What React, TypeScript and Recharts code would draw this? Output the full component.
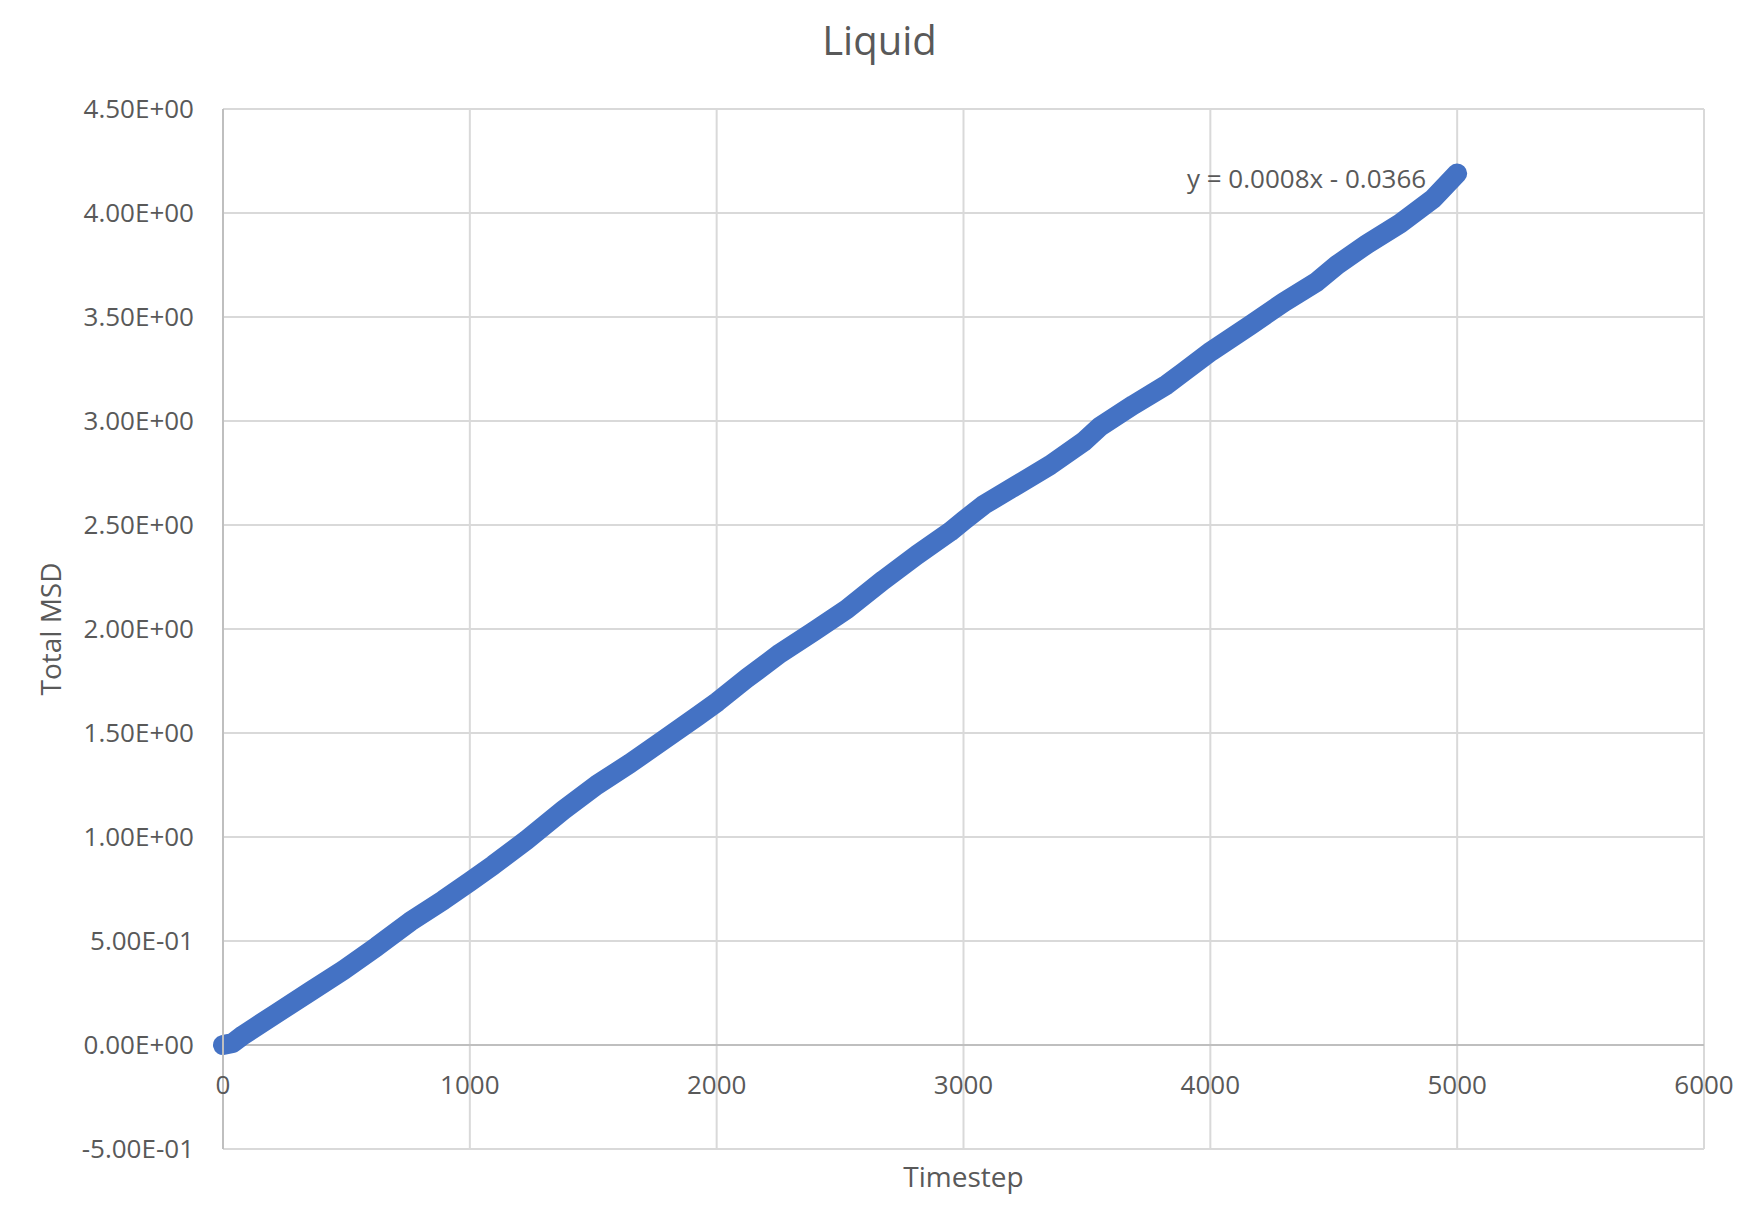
import React from 'react';
import {
  LineChart,
  Line,
  XAxis,
  YAxis,
  CartesianGrid,
  ReferenceLine,
  ReferenceDot,
  Label,
} from 'recharts';

// ---- data ----
const timesteps = [
  0, 40, 82, 217, 352, 488, 623, 758, 893, 1000,
  1095, 1230, 1379, 1514, 1649, 1784, 1919, 2003, 2122, 2257,
  2392, 2527, 2676, 2811, 2946, 3004, 3081, 3216, 3351, 3486,
  3553, 3688, 3824, 3891, 4003, 4161, 4296, 4432, 4513, 4634,
  4769, 4904, 5000,
];
const totalMsd = [
  0, 0.01, 0.048, 0.152, 0.256, 0.36, 0.473, 0.593, 0.697, 0.785,
  0.865, 0.986, 1.13, 1.25, 1.354, 1.466, 1.578, 1.65, 1.763, 1.883,
  1.987, 2.095, 2.236, 2.356, 2.468, 2.524, 2.596, 2.692, 2.788, 2.9,
  2.973, 3.077, 3.175, 3.235, 3.335, 3.46, 3.57, 3.67, 3.75, 3.85,
  3.95, 4.07, 4.19,
];
const xTicks = [0, 1000, 2000, 3000, 4000, 5000, 6000];
const yTicks = [-0.5, 0, 0.5, 1, 1.5, 2, 2.5, 3, 3.5, 4, 4.5];
const chartTitle = 'Liquid';
const xTitle = 'Timestep';
const yTitle = 'Total MSD';
const trendlineLabel = 'y = 0.0008x - 0.0366';

const data = timesteps.map((t, i) => ({ t, v: totalMsd[i] }));
const lastPoint = data[data.length - 1];

const FONT = '"Open Sans", "Noto Sans", sans-serif';
const TEXT = '#595959';

const fmtSci = (v: number) => {
  if (v === 0) return '0.00E+00';
  const exp = Math.floor(Math.log10(Math.abs(v)) + 1e-12);
  const mant = v / Math.pow(10, exp);
  const sign = exp < 0 ? '-' : '+';
  return `${mant.toFixed(2)}E${sign}${String(Math.abs(exp)).padStart(2, '0')}`;
};

export default function App() {
  return (
    <div
      style={{
        position: 'absolute',
        left: 0,
        top: 0,
        width: 1759,
        height: 1216,
        background: '#ffffff',
        fontFamily: FONT,
      }}
    >
      <svg
        width={1759}
        height={100}
        style={{ position: 'absolute', left: 0, top: 0, pointerEvents: 'none' }}
      >
        <text
          x={879.5}
          y={55}
          textAnchor="middle"
          fontSize={40}
          fill={TEXT}
          fontFamily={FONT}
        >
          {chartTitle}
        </text>
      </svg>
      <LineChart
        width={1759}
        height={1216}
        data={data}
        margin={{ top: 109, right: 55, bottom: 0, left: 0 }}
      >
        <CartesianGrid stroke="#D9D9D9" strokeWidth={2} />
        <XAxis
          dataKey="t"
          type="number"
          domain={[0, 6000]}
          ticks={xTicks}
          height={67}
          axisLine={false}
          tickLine={false}
          tickSize={0}
          tickMargin={-73}
          tick={{ fill: TEXT, fontSize: 26, fontFamily: FONT }}
          interval={0}
        >
          <Label
            content={(props: any) => {
              const vb = props.viewBox || {};
              return (
                <text
                  x={vb.x + vb.width / 2}
                  y={vb.y + 38}
                  textAnchor="middle"
                  fontSize={28}
                  fill={TEXT}
                  fontFamily={FONT}
                >
                  {xTitle}
                </text>
              );
            }}
          />
        </XAxis>
        <YAxis
          type="number"
          domain={[-0.5, 4.5]}
          ticks={yTicks}
          width={223}
          axisLine={{ stroke: '#BFBFBF', strokeWidth: 2 }}
          tickLine={false}
          tickSize={0}
          tickMargin={29}
          tickFormatter={fmtSci}
          tick={{ fill: TEXT, fontSize: 26, fontFamily: FONT }}
          interval={0}
        >
          <Label
            content={(props: any) => {
              const vb = props.viewBox || {};
              const cy = vb.y + vb.height / 2;
              return (
                <text
                  transform={`translate(61, ${cy}) rotate(-90)`}
                  x={0}
                  y={0}
                  textAnchor="middle"
                  fontSize={28}
                  fill={TEXT}
                  fontFamily={FONT}
                >
                  {yTitle}
                </text>
              );
            }}
          />
        </YAxis>
        <ReferenceLine y={0} stroke="#BFBFBF" strokeWidth={2} />
        <Line
          type="linear"
          dataKey="v"
          stroke="#4472C4"
          strokeWidth={20}
          strokeLinecap="round"
          strokeLinejoin="round"
          dot={false}
          activeDot={false}
          isAnimationActive={false}
        />
        <ReferenceDot
          x={lastPoint.t}
          y={lastPoint.v}
          r={0}
          fill="none"
          stroke="none"
          label={{
            value: trendlineLabel,
            position: 'left',
            offset: 31,
            dy: 5,
            fill: TEXT,
            fontSize: 26,
            fontFamily: FONT,
          }}
        />
      </LineChart>
    </div>
  );
}
